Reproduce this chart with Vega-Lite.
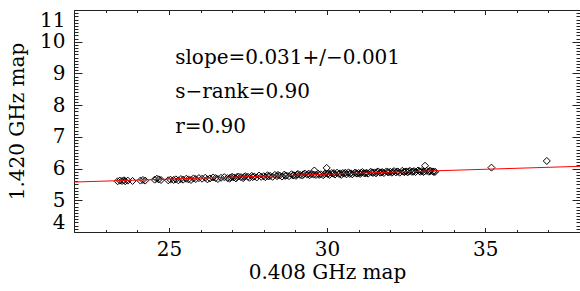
{
  "$schema": "https://vega.github.io/schema/vega-lite/v6.json",
  "width": 506,
  "height": 222,
  "autosize": {"type": "none"},
  "padding": {"left": 74, "top": 10, "right": 0, "bottom": 59},
  "background": "white",
  "config": {
    "view": {"stroke": null},
    "font": "DejaVu Serif",
    "axis": {
      "domainColor": "#222222",
      "domainWidth": 1,
      "tickColor": "#222222",
      "tickWidth": 1,
      "grid": false,
      "labelFont": "DejaVu Serif",
      "labelFontSize": 20,
      "labelColor": "black",
      "titleFont": "DejaVu Serif",
      "titleFontSize": 20,
      "titleFontWeight": "normal",
      "titleColor": "black",
      "labelOverlap": false,
      "labelBound": false
    }
  },
  "datasets": {
    "pts": [
      {"x": 23.38, "y": 5.60}, {"x": 23.45, "y": 5.62}, {"x": 23.52, "y": 5.61}, {"x": 23.58, "y": 5.63},
      {"x": 23.62, "y": 5.60}, {"x": 23.70, "y": 5.62}, {"x": 23.85, "y": 5.61}, {"x": 24.10, "y": 5.62},
      {"x": 24.18, "y": 5.64}, {"x": 24.25, "y": 5.62}, {"x": 24.55, "y": 5.65}, {"x": 24.62, "y": 5.68},
      {"x": 24.68, "y": 5.66}, {"x": 24.75, "y": 5.64}, {"x": 24.98, "y": 5.63}, {"x": 25.05, "y": 5.65},
      {"x": 25.15, "y": 5.64}, {"x": 25.22, "y": 5.66}, {"x": 25.30, "y": 5.63}, {"x": 25.38, "y": 5.67},
      {"x": 25.45, "y": 5.65}, {"x": 25.55, "y": 5.68}, {"x": 25.62, "y": 5.66}, {"x": 25.70, "y": 5.64},
      {"x": 25.78, "y": 5.69}, {"x": 25.85, "y": 5.67}, {"x": 25.95, "y": 5.70}, {"x": 26.05, "y": 5.68},
      {"x": 26.15, "y": 5.71}, {"x": 26.22, "y": 5.66}, {"x": 26.30, "y": 5.69}, {"x": 26.40, "y": 5.72},
      {"x": 26.48, "y": 5.70}, {"x": 26.55, "y": 5.67}, {"x": 26.65, "y": 5.71}, {"x": 26.75, "y": 5.73},
      {"x": 26.85, "y": 5.70}, {"x": 26.92, "y": 5.68}, {"x": 26.95, "y": 5.72}, {"x": 27.00, "y": 5.74},
      {"x": 27.05, "y": 5.72}, {"x": 27.12, "y": 5.69}, {"x": 27.15, "y": 5.73}, {"x": 27.20, "y": 5.75},
      {"x": 27.28, "y": 5.73}, {"x": 27.35, "y": 5.70}, {"x": 27.38, "y": 5.74}, {"x": 27.42, "y": 5.76},
      {"x": 27.50, "y": 5.74}, {"x": 27.55, "y": 5.71}, {"x": 27.62, "y": 5.77}, {"x": 27.65, "y": 5.73},
      {"x": 27.70, "y": 5.75}, {"x": 27.78, "y": 5.72}, {"x": 27.85, "y": 5.78}, {"x": 27.92, "y": 5.74},
      {"x": 28.00, "y": 5.76}, {"x": 28.05, "y": 5.73}, {"x": 28.12, "y": 5.79}, {"x": 28.15, "y": 5.75},
      {"x": 28.20, "y": 5.77}, {"x": 28.28, "y": 5.74}, {"x": 28.35, "y": 5.80}, {"x": 28.42, "y": 5.76},
      {"x": 28.45, "y": 5.80}, {"x": 28.50, "y": 5.78}, {"x": 28.58, "y": 5.75}, {"x": 28.65, "y": 5.81},
      {"x": 28.68, "y": 5.77}, {"x": 28.72, "y": 5.78}, {"x": 28.80, "y": 5.76}, {"x": 28.88, "y": 5.82},
      {"x": 28.92, "y": 5.78}, {"x": 28.95, "y": 5.79}, {"x": 29.02, "y": 5.77}, {"x": 29.05, "y": 5.81},
      {"x": 29.08, "y": 5.83}, {"x": 29.15, "y": 5.80}, {"x": 29.22, "y": 5.78}, {"x": 29.25, "y": 5.82},
      {"x": 29.30, "y": 5.84}, {"x": 29.38, "y": 5.81}, {"x": 29.42, "y": 5.84}, {"x": 29.45, "y": 5.79},
      {"x": 29.52, "y": 5.83}, {"x": 29.58, "y": 5.81}, {"x": 29.60, "y": 5.94}, {"x": 29.65, "y": 5.80},
      {"x": 29.72, "y": 5.84}, {"x": 29.75, "y": 5.80}, {"x": 29.80, "y": 5.82}, {"x": 29.88, "y": 5.79},
      {"x": 29.92, "y": 5.82}, {"x": 29.95, "y": 5.85}, {"x": 29.99, "y": 6.02}, {"x": 30.02, "y": 5.83},
      {"x": 30.05, "y": 5.85}, {"x": 30.08, "y": 5.80}, {"x": 30.15, "y": 5.86}, {"x": 30.20, "y": 5.84},
      {"x": 30.22, "y": 5.86}, {"x": 30.25, "y": 5.81}, {"x": 30.32, "y": 5.87}, {"x": 30.38, "y": 5.83},
      {"x": 30.42, "y": 5.85}, {"x": 30.45, "y": 5.80}, {"x": 30.50, "y": 5.86}, {"x": 30.55, "y": 5.84},
      {"x": 30.58, "y": 5.87}, {"x": 30.62, "y": 5.82}, {"x": 30.68, "y": 5.88}, {"x": 30.72, "y": 5.83},
      {"x": 30.75, "y": 5.85}, {"x": 30.80, "y": 5.82}, {"x": 30.88, "y": 5.87}, {"x": 30.92, "y": 5.86},
      {"x": 30.95, "y": 5.84}, {"x": 31.00, "y": 5.86}, {"x": 31.05, "y": 5.83}, {"x": 31.08, "y": 5.87},
      {"x": 31.12, "y": 5.89}, {"x": 31.18, "y": 5.85}, {"x": 31.22, "y": 5.85}, {"x": 31.25, "y": 5.87},
      {"x": 31.30, "y": 5.84}, {"x": 31.38, "y": 5.90}, {"x": 31.42, "y": 5.88}, {"x": 31.45, "y": 5.86},
      {"x": 31.50, "y": 5.88}, {"x": 31.55, "y": 5.85}, {"x": 31.58, "y": 5.89}, {"x": 31.62, "y": 5.91},
      {"x": 31.68, "y": 5.87}, {"x": 31.72, "y": 5.88}, {"x": 31.75, "y": 5.89}, {"x": 31.80, "y": 5.86},
      {"x": 31.88, "y": 5.91}, {"x": 31.92, "y": 5.89}, {"x": 31.95, "y": 5.88}, {"x": 32.00, "y": 5.90},
      {"x": 32.05, "y": 5.87}, {"x": 32.08, "y": 5.89}, {"x": 32.12, "y": 5.92}, {"x": 32.18, "y": 5.88},
      {"x": 32.22, "y": 5.91}, {"x": 32.25, "y": 5.90}, {"x": 32.30, "y": 5.87}, {"x": 32.38, "y": 5.93},
      {"x": 32.42, "y": 5.90}, {"x": 32.45, "y": 5.89}, {"x": 32.50, "y": 5.91}, {"x": 32.55, "y": 5.88},
      {"x": 32.58, "y": 5.91}, {"x": 32.62, "y": 5.93}, {"x": 32.68, "y": 5.90}, {"x": 32.72, "y": 5.90},
      {"x": 32.75, "y": 5.92}, {"x": 32.80, "y": 5.89}, {"x": 32.88, "y": 5.94}, {"x": 32.92, "y": 5.92},
      {"x": 32.95, "y": 5.90}, {"x": 33.00, "y": 5.92}, {"x": 33.05, "y": 5.89}, {"x": 33.08, "y": 5.91},
      {"x": 33.10, "y": 6.09}, {"x": 33.15, "y": 5.93}, {"x": 33.22, "y": 5.90}, {"x": 33.25, "y": 5.93},
      {"x": 33.28, "y": 5.92}, {"x": 33.35, "y": 5.91}, {"x": 33.38, "y": 5.89}, {"x": 33.42, "y": 5.90},
      {"x": 35.20, "y": 6.03}, {"x": 36.95, "y": 6.24}
    ],
    "fit": [
      {"x": 22, "y": 5.575},
      {"x": 38, "y": 6.071}
    ],
    "notes": [
      {"x": 25.2, "y": 9.5, "t": "slope=0.031+/−0.001"},
      {"x": 25.2, "y": 8.42, "t": "s−rank=0.90"},
      {"x": 25.2, "y": 7.3, "t": "r=0.90"}
    ]
  },
  "layer": [
    {
      "data": {"name": "pts"},
      "mark": {"type": "point", "shape": "diamond", "size": 49, "filled": false, "stroke": "black", "strokeWidth": 1, "opacity": 1},
      "encoding": {
        "x": {
          "field": "x", "type": "quantitative",
          "scale": {"domain": [22, 38], "nice": false, "zero": false},
          "axis": {
            "orient": "bottom",
            "title": "0.408 GHz map",
            "tickCount": 16,
            "tickSize": {"condition": {"test": "abs(datum.value % 5) < 0.001", "value": -4.5}, "value": -2.5},
            "labelExpr": "abs(datum.value % 5) < 0.001 ? format(datum.value, 'd') : ''",
            "labelPadding": 12,
            "labelFlush": false,
            "titleY": 40,
            "titleBaseline": "middle"
          }
        },
        "y": {
          "field": "y", "type": "quantitative",
          "scale": {"domain": [4, 11], "nice": false, "zero": false},
          "axis": {
            "orient": "left",
            "title": "1.420 GHz map",
            "tickCount": 70,
            "tickSize": {"condition": {"test": "abs(datum.value - round(datum.value)) < 0.001", "value": -8}, "value": -4},
            "labelExpr": "abs(datum.value - round(datum.value)) < 0.001 ? format(datum.value, 'd') : ''",
            "labelPadding": 17,
            "labelFlush": true,
            "titleX": -57,
            "titleY": 111,
            "titleAngle": -90,
            "titleAlign": "center",
            "titleBaseline": "middle"
          }
        }
      }
    },
    {
      "data": {"name": "fit"},
      "mark": {"type": "line", "color": "red", "strokeWidth": 1},
      "encoding": {
        "x": {
          "field": "x", "type": "quantitative",
          "axis": {
            "orient": "top",
            "title": null,
            "labels": false,
            "tickCount": 16,
            "tickSize": {"condition": {"test": "abs(datum.value % 5) < 0.001", "value": -4.5}, "value": -2.5}
          }
        },
        "y": {
          "field": "y", "type": "quantitative",
          "axis": {
            "orient": "right",
            "title": null,
            "labels": false,
            "tickCount": 70,
            "tickSize": {"condition": {"test": "abs(datum.value - round(datum.value)) < 0.001", "value": -8}, "value": -4}
          }
        }
      }
    },
    {
      "data": {"name": "notes"},
      "mark": {"type": "text", "align": "left", "baseline": "middle", "font": "DejaVu Serif", "fontSize": 20, "color": "black"},
      "encoding": {
        "x": {"field": "x", "type": "quantitative", "axis": null},
        "y": {"field": "y", "type": "quantitative", "axis": null},
        "text": {"field": "t"}
      }
    }
  ],
  "resolve": {"axis": {"x": "independent", "y": "independent"}}
}
